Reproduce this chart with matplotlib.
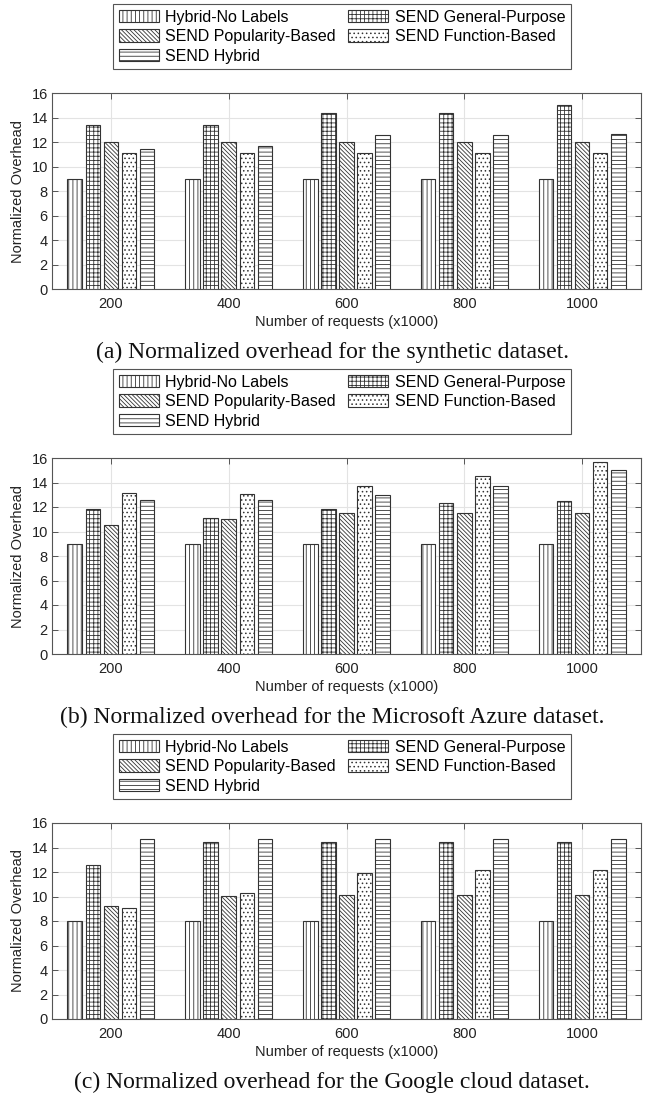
import numpy as np
import matplotlib
matplotlib.use('Agg')
import matplotlib.pyplot as plt

plt.rcParams['font.family'] = ['Liberation Sans', 'DejaVu Sans']
plt.rcParams['hatch.linewidth'] = 0.6
plt.rcParams['hatch.color'] = '#333333'

#----------------------------------------------------------------------------------------------
requests = ['200', '400', '600', '800', '1000']

series = ['Hybrid-No Labels', 'SEND General-Purpose', 'SEND Popularity-Based',
          'SEND Function-Based', 'SEND Hybrid']

# (a) synthetic dataset
synth_hybrid_nolabels = [9.0, 9.0, 9.0, 9.0, 9.0]
synth_general         = [13.4, 13.4, 14.4, 14.4, 15.0]
synth_popularity      = [12.0, 12.0, 12.0, 12.0, 12.0]
synth_function        = [11.1, 11.1, 11.1, 11.1, 11.1]
synth_hybrid          = [11.4, 11.65, 12.6, 12.6, 12.65]

# (b) Microsoft Azure dataset
azure_hybrid_nolabels = [9.0, 9.0, 9.0, 9.0, 9.0]
azure_general         = [11.85, 11.1, 11.85, 12.3, 12.5]
azure_popularity      = [10.55, 11.05, 11.55, 11.55, 11.55]
azure_function        = [13.15, 13.05, 13.75, 14.55, 15.7]
azure_hybrid          = [12.6, 12.6, 13.0, 13.7, 15.0]

# (c) Google cloud dataset
google_hybrid_nolabels = [8.0, 8.0, 8.0, 8.0, 8.0]
google_general         = [12.55, 14.45, 14.45, 14.45, 14.45]
google_popularity      = [9.25, 10.05, 10.1, 10.1, 10.1]
google_function        = [9.1, 10.3, 11.95, 12.2, 12.2]
google_hybrid          = [14.72, 14.72, 14.72, 14.72, 14.72]

captions = ['(a) Normalized overhead for the synthetic dataset.',
            '(b) Normalized overhead for the Microsoft Azure dataset.',
            '(c) Normalized overhead for the Google cloud dataset.']

panels = [
    [synth_hybrid_nolabels, synth_general, synth_popularity, synth_function, synth_hybrid],
    [azure_hybrid_nolabels, azure_general, azure_popularity, azure_function, azure_hybrid],
    [google_hybrid_nolabels, google_general, google_popularity, google_function, google_hybrid],
]

hatches = ['||||', '++++', '\\' * 8, '....', '----']

W, H = 650.0, 1095.0
offsets = [0, 365, 730]
axcol = '#555555'

#----------------------------------------------------------------------------------------------
fig = plt.figure(figsize=(6.5, 10.95), dpi=100)

for p, (vals, off) in enumerate(zip(panels, offsets)):

    top = 93 + off
    bot = 289 + off
    ax = fig.add_axes([52 / W, 1 - bot / H, 589 / W, (bot - top) / H])

    x = np.arange(1, len(requests) + 1)
    handles = []
    for i, v in enumerate(vals):
        b = ax.bar(x + (i - 2) * 0.1538, v, width=0.123, facecolor='white',
                   edgecolor='#333333', linewidth=0.8, hatch=hatches[i],
                   label=series[i], zorder=3)
        handles.append(b)

    ax.set_xlim(0.5, 5.5)
    ax.set_ylim(0, 16)
    ax.set_xticks(x)
    ax.set_xticklabels(requests)
    ax.set_yticks(np.arange(0, 17, 2))

    ax.grid(True, color='#e3e3e3', linewidth=0.8, zorder=0)
    ax.set_axisbelow(True)

    for s in ax.spines.values():
        s.set_color(axcol)
        s.set_linewidth(0.8)

    ax.tick_params(direction='in', length=4, width=0.7, color=axcol,
                   top=True, right=True, labelsize=10.5, labelcolor='#222222')
    ax.tick_params(axis='x', pad=6)
    ax.tick_params(axis='y', pad=3)

    ax.set_xlabel('Number of requests (x1000)', fontsize=10.5, color='#222222')
    ax.xaxis.set_label_coords(0.5, -(322 - 289) / 196.0)
    ax.xaxis.label.set_va('center')
    ax.set_ylabel('Normalized Overhead', fontsize=10.5, color='#222222')
    ax.yaxis.set_label_coords(-(52 - 18) / 589.0, 0.5)
    ax.yaxis.label.set_va('center')

    order = [0, 2, 4, 1, 3]
    leg = fig.legend([handles[k] for k in order], [series[k] for k in order],
                     loc='upper left', bbox_to_anchor=(113 / W, 1 - (4 + off) / H),
                     ncol=2, fontsize=11.5, fancybox=False, framealpha=1,
                     edgecolor=axcol, borderaxespad=0, borderpad=0.35,
                     labelspacing=0.28, handlelength=2.5, handleheight=0.8,
                     handletextpad=0.4, columnspacing=0.8)
    leg.get_frame().set_linewidth(0.8)

    fig.text(332 / W, 1 - (352 + off) / H, captions[p], ha='center', va='center',
             fontsize=17, family=['Liberation Serif', 'DejaVu Serif'], color='#111111')

fig.savefig('out.png', dpi=100)
